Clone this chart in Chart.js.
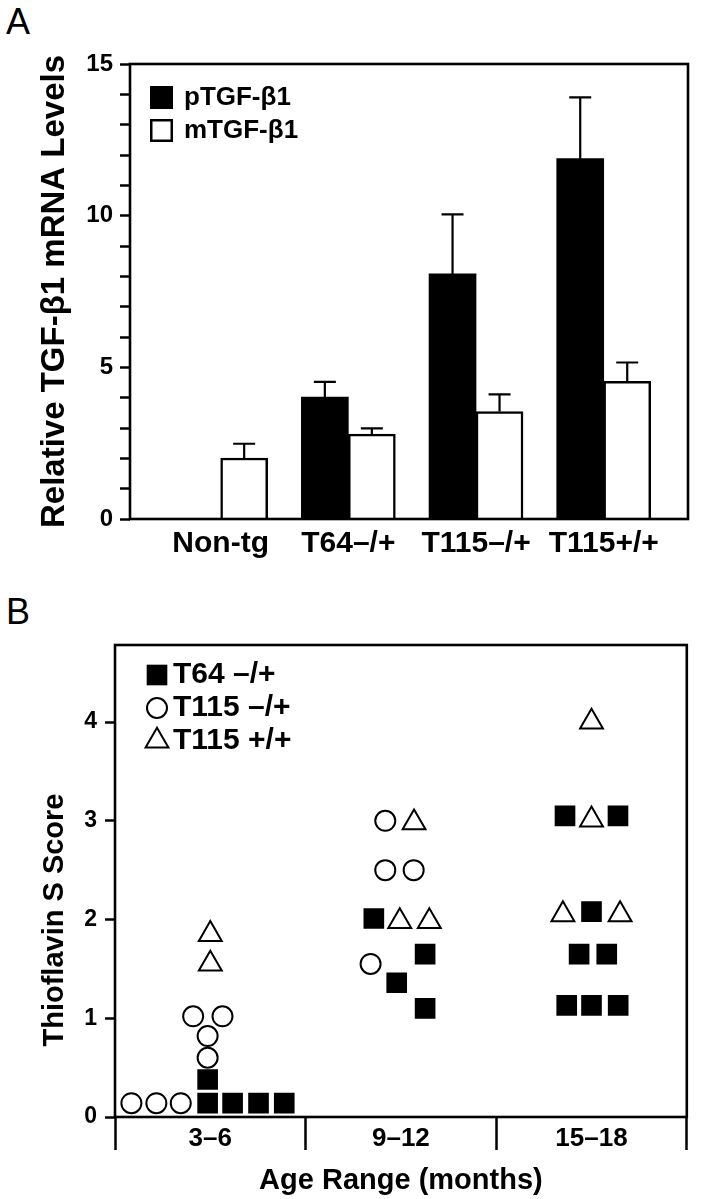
<!DOCTYPE html>
<html>
<head>
<meta charset="utf-8">
<script src="https://cdn.jsdelivr.net/npm/chart.js@4.4.1/dist/chart.umd.min.js"></script>
<style>
  html, body { margin: 0; padding: 0; background: #fff; }
  body { width: 702px; height: 1199px; position: relative; overflow: hidden; font-family: 'Liberation Sans', Arial, sans-serif; }
  .panel { position: absolute; left: 0; }
  .letter { position: absolute; left: 6px; font-size: 36px; line-height: 36px; color: #000; }
</style>
</head>
<body>
<div class="letter" style="top:4px">A</div>
<div class="letter" style="top:594px">B</div>
<canvas id="chartA" class="panel" style="top:0" width="702" height="580"></canvas>
<canvas id="chartB" class="panel" style="top:580px" width="702" height="619"></canvas>
<script>
// ---- panel A data
const groupsA = ['Non-tg', 'T64\u2013/+', 'T115\u2013/+', 'T115+/+'];
const groupPosA = [1, 2, 3, 4];
const pTGF = [null, 4.02, 8.08, 11.88];
const pTGFErr = [null, 0.5, 1.96, 2.02];
const mTGF = [2.01, 2.8, 3.54, 4.54];
const mTGFErr = [0.47, 0.19, 0.57, 0.62];
const yTicksA = [0, 1, 2, 3, 4, 5, 6, 7, 8, 9, 10, 11, 12, 13, 14, 15];

// ---- panel B data (x = age group position plus its spread inside the group)
const catsB = ['3\u20136', '9\u201312', '15\u201318'];
const catPosB = [1, 2, 3];
const catEdgesB = [0.5, 1.5, 2.5, 3.5];
const yTicksB = [0, 1, 2, 3, 4];
const t64X = [0.986, 1.117, 1.253, 1.388, 0.986, 1.858, 2.127, 1.978, 2.127, 2.861, 3.139, 3.0, 2.935, 3.08, 2.87, 3.0, 3.14];
const t64Y = [0.14, 0.14, 0.14, 0.14, 0.38, 2.01, 1.65, 1.36, 1.1, 3.05, 3.05, 2.08, 1.65, 1.65, 1.13, 1.13, 1.13];
const t115hetX = [0.586, 0.717, 0.845, 0.986, 0.986, 0.91, 1.064, 1.918, 1.918, 2.067, 1.841];
const t115hetY = [0.14, 0.14, 0.14, 0.6, 0.82, 1.02, 1.02, 3.0, 2.5, 2.5, 1.55];
const t115homX = [1.0, 1.0, 2.069, 1.994, 2.149, 3.0, 3.0, 2.85, 3.15];
const t115homY = [1.85, 1.55, 2.98, 1.98, 1.98, 4.0, 3.01, 2.05, 2.05];

const FONT = "'Liberation Sans', Arial, sans-serif";
Chart.defaults.font.family = FONT;
Chart.defaults.color = '#000';

const pairs = (xs, ys) => xs.map((x, i) => ({ x: x, y: ys[i] }));

const framePlugin = {
    id: 'frame',
    afterDraw(chart) {
        const { ctx, chartArea: a } = chart;
        ctx.save();
        ctx.strokeStyle = '#000';
        ctx.lineWidth = 2.6;
        ctx.strokeRect(a.left, a.top, a.right - a.left, a.bottom - a.top);
        ctx.restore();
    }
};

const errorBarPlugin = {
    id: 'errorBars',
    afterDatasetsDraw(chart) {
        const { ctx } = chart;
        const y = chart.scales.y;
        chart.data.datasets.forEach((ds, di) => {
            chart.getDatasetMeta(di).data.forEach((bar, i) => {
                const v = ds.data[i].y, e = ds.errors[i];
                if (v == null || e == null) return;
                const top = y.getPixelForValue(v + e);
                ctx.save();
                ctx.strokeStyle = '#000';
                ctx.lineWidth = 2.2;
                ctx.beginPath();
                ctx.moveTo(bar.x, bar.y);
                ctx.lineTo(bar.x, top);
                ctx.moveTo(bar.x - 11, top);
                ctx.lineTo(bar.x + 11, top);
                ctx.stroke();
                ctx.restore();
            });
        });
    }
};

const boxLegendPlugin = {
    id: 'boxLegend',
    afterDraw(chart, args, opts) {
        const { ctx, chartArea: a } = chart;
        ctx.save();
        ctx.font = 'bold 26px ' + FONT;
        ctx.textBaseline = 'middle';
        chart.data.datasets.forEach((ds, i) => {
            const cy = a.top + opts.firstRow + i * opts.rowGap;
            const bx = a.left + opts.boxX;
            const s = opts.box;
            ctx.fillStyle = ds.backgroundColor;
            ctx.fillRect(bx, cy - s / 2, s, s);
            if (ds.borderWidth) {
                ctx.lineWidth = ds.borderWidth;
                ctx.strokeStyle = '#000';
                ctx.strokeRect(bx + 1.25, cy - s / 2 + 1.25, s - 2.5, s - 2.5);
            }
            ctx.fillStyle = '#000';
            ctx.fillText(ds.label, a.left + opts.textX, cy);
        });
        ctx.restore();
    }
};

const pointLegendPlugin = {
    id: 'pointLegend',
    afterDraw(chart, args, opts) {
        const { ctx, chartArea: a } = chart;
        ctx.save();
        ctx.font = 'bold 30px ' + FONT;
        ctx.textBaseline = 'middle';
        chart.data.datasets.forEach((ds, i) => {
            const x = a.left + opts.symbolX;
            const y = a.top + opts.firstRow + i * opts.rowGap;
            ctx.fillStyle = ds.backgroundColor;
            ctx.strokeStyle = ds.borderColor;
            ctx.lineWidth = ds.borderWidth;
            Chart.helpers.drawPoint(ctx, { pointStyle: ds.pointStyle, radius: ds.pointRadius, rotation: 0, borderWidth: ds.borderWidth }, x, y);
            ctx.fillStyle = '#000';
            ctx.fillText(ds.label, a.left + opts.textX, y);
        });
        ctx.restore();
    }
};

const sideTitlePlugin = {
    id: 'sideTitle',
    afterDraw(chart, args, opts) {
        const { ctx, chartArea: a } = chart;
        ctx.save();
        ctx.translate(a.left - opts.dx, a.bottom - opts.dy);
        ctx.rotate(-Math.PI / 2);
        ctx.font = 'bold 29px ' + FONT;
        ctx.textAlign = 'center';
        ctx.textBaseline = 'middle';
        ctx.fillStyle = '#000';
        ctx.fillText(opts.text, 0, 0);
        ctx.restore();
    }
};

// ---- panel A
new Chart(document.getElementById('chartA'), {
    type: 'bar',
    data: {
        datasets: [
            { label: 'pTGF-\u03b21', data: pairs(groupPosA, pTGF), errors: pTGFErr,
              backgroundColor: '#000', borderWidth: 0, barThickness: 47 },
            { label: 'mTGF-\u03b21', data: pairs(groupPosA, mTGF), errors: mTGFErr,
              backgroundColor: '#fff', borderColor: '#000', borderWidth: 2.5, barThickness: 47 }
        ]
    },
    options: {
        responsive: false,
        animation: false,
        layout: { padding: { left: 0, right: 14, top: 64, bottom: 0 } },
        plugins: {
            legend: { display: false },
            tooltip: { enabled: false },
            boxLegend: { boxX: 20, box: 23, firstRow: 33.5, rowGap: 33, textX: 54 }
        },
        scales: {
            x: {
                type: 'linear', min: 0.29, max: 4.66, offset: false,
                afterBuildTicks: s => { s.ticks = groupPosA.map(v => ({ value: v })); },
                ticks: { callback: v => groupsA[groupPosA.indexOf(v)], font: { size: 30, weight: 'bold' },
                         padding: 7, maxRotation: 0, autoSkip: false },
                grid: { display: false, drawTicks: false, offset: false },
                border: { display: false },
                afterFit: s => { s.height = 61; }
            },
            y: {
                min: 0, max: 15,
                afterBuildTicks: s => { s.ticks = yTicksA.map(v => ({ value: v })); },
                ticks: { callback: v => (v % 5 === 0 ? String(v) : ''), font: { size: 24, weight: 'bold' },
                         padding: 7, autoSkip: false },
                grid: { drawOnChartArea: false, drawTicks: true, tickLength: 10, tickWidth: 2.5, tickColor: '#000' },
                border: { display: false },
                title: { display: true, text: 'Relative TGF-\u03b21 mRNA Levels', font: { size: 33, weight: 'bold' },
                         padding: { top: 35, bottom: 0 } },
                afterFit: s => { s.width = 130; }
            }
        }
    },
    plugins: [framePlugin, errorBarPlugin, boxLegendPlugin]
});

// ---- panel B
new Chart(document.getElementById('chartB'), {
    type: 'scatter',
    data: {
        datasets: [
            { label: 'T64 \u2013/+', data: pairs(t64X, t64Y), pointStyle: 'rect', pointRadius: 14.6,
              backgroundColor: '#000', borderColor: '#000', borderWidth: 0 },
            { label: 'T115 \u2013/+', data: pairs(t115hetX, t115hetY), pointStyle: 'circle', pointRadius: 10,
              backgroundColor: '#fff', borderColor: '#000', borderWidth: 2 },
            { label: 'T115 +/+', data: pairs(t115homX, t115homY), pointStyle: 'triangle', pointRadius: 13.2,
              backgroundColor: '#fff', borderColor: '#000', borderWidth: 2 }
        ]
    },
    options: {
        responsive: false,
        animation: false,
        layout: { padding: { left: 0, right: 15, top: 65, bottom: 0 } },
        plugins: {
            legend: { display: false },
            tooltip: { enabled: false },
            pointLegend: { symbolX: 42, firstRow: 30, rowGap: 33, textX: 58 },
            sideTitle: { text: 'Thioflavin S Score', dx: 60, dy: 197 }
        },
        scales: {
            x: {
                type: 'linear', min: 0.5, max: 3.5, offset: false,
                afterBuildTicks: s => { s.ticks = catEdgesB.concat(catPosB).sort((a, b) => a - b).map(v => ({ value: v })); },
                ticks: { callback: v => (catPosB.includes(v) ? catsB[catPosB.indexOf(v)] : ''),
                         font: { size: 26, weight: 'bold' }, padding: -27, maxRotation: 0, autoSkip: false },
                grid: { drawOnChartArea: false, drawTicks: true, tickLength: 33, tickWidth: 2.5,
                        tickColor: c => (catEdgesB.includes(c.tick.value) ? '#000' : 'rgba(0,0,0,0)') },
                border: { display: false },
                title: { display: true, text: 'Age Range (months)', font: { size: 29, weight: 'bold' },
                         padding: { top: 0, bottom: 1 } },
                afterFit: s => { s.height = 82; }
            },
            y: {
                min: 0, max: 4.78,
                afterBuildTicks: s => { s.ticks = yTicksB.map(v => ({ value: v })); },
                ticks: { font: { size: 23, weight: 'bold' }, padding: 8, autoSkip: false },
                grid: { drawOnChartArea: false, drawTicks: true, tickLength: 10, tickWidth: 2.5, tickColor: '#000' },
                border: { display: false },
                afterFit: s => { s.width = 115; }
            }
        }
    },
    plugins: [framePlugin, pointLegendPlugin, sideTitlePlugin]
});
</script>
</body>
</html>
